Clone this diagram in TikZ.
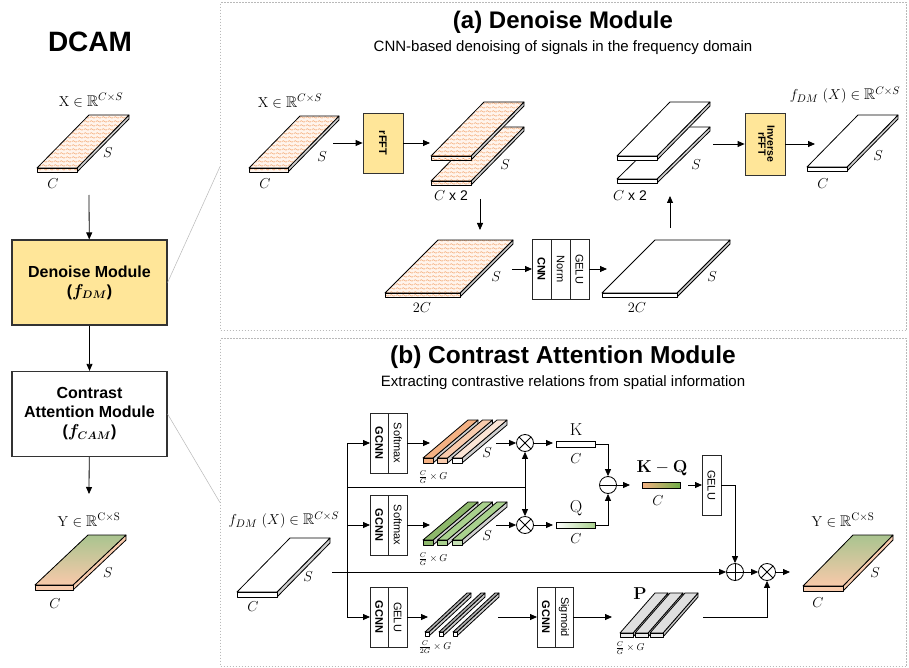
\documentclass[tikz,border=0pt]{standalone}
\usepackage{amssymb}
\usepackage{graphicx}
\usepackage[no-math]{fontspec}
\setmainfont{Liberation Sans}
\usepackage{tikz}
\definecolor{BoxYellow}{HTML}{FFE699}
\definecolor{WavyBg}{HTML}{FFF4EC}
\definecolor{WavyDot}{HTML}{F19A5E}
\definecolor{SlabSide}{HTML}{D0D0D0}
\definecolor{PeachA}{HTML}{F4B183}
\definecolor{PeachB}{HTML}{F8CBAD}
\definecolor{PeachC}{HTML}{FBE5D6}
\definecolor{GreenA}{HTML}{8DB86B}
\definecolor{GreenB}{HTML}{A9D18E}
\definecolor{GreenC}{HTML}{C5E0B4}
\definecolor{GreenD}{HTML}{70AD47}
\definecolor{YGreen}{HTML}{A9C48F}
\definecolor{YPeach}{HTML}{F8C9AA}
\usetikzlibrary{arrows.meta,positioning,calc,patterns}

% small wave texture for the noisy inputs
\pgfdeclarepatternformonly{wave}{\pgfqpoint{0pt}{0pt}}{\pgfqpoint{6pt}{3.5pt}}{\pgfqpoint{6pt}{3.5pt}}{
  \pgfsetlinewidth{0.5pt}
  \pgfpathmoveto{\pgfqpoint{0pt}{1.75pt}}
  \pgfpathcurveto{\pgfqpoint{1pt}{2.9pt}}{\pgfqpoint{2pt}{2.9pt}}{\pgfqpoint{3pt}{1.75pt}}
  \pgfpathcurveto{\pgfqpoint{4pt}{0.6pt}}{\pgfqpoint{5pt}{0.6pt}}{\pgfqpoint{6pt}{1.75pt}}
  \pgfusepath{stroke}
}

% front bottom-left x, y, width, thickness, depth dx, depth dy, top, side, front
\newcommand{\drawslab}[9]{%
  \filldraw[slabedge,#8] (#1+#3,#2-#4) -- (#1+#3,#2) -- (#1+#3+#5,#2-#6) -- (#1+#3+#5,#2-#4-#6) -- cycle;
  \filldraw[slabedge,#7] (#1,#2-#4) -- (#1+#3,#2-#4) -- (#1+#3+#5,#2-#4-#6) -- (#1+#5,#2-#4-#6) -- cycle;
  \filldraw[slabedge,#9] (#1,#2-#4) rectangle (#1+#3,#2);
}

\begin{document}
\begin{tikzpicture}[
x=1pt, y=-1pt,
line width=0.8pt,
>={Triangle[length=7pt,width=6pt]},
panel/.style={
	draw=gray!55,
	dash pattern=on 1.5pt off 1.5pt,
	line width=1.2pt,
	minimum width=686pt,
	minimum height=328pt,
	anchor=north west,
	inner sep=0pt
},
zoomline/.style={draw=gray!55, line width=0.5pt},
modbox/.style={
	draw=black!80,
	line width=1.2pt,
	minimum width=155pt,
	minimum height=85pt,
	align=center,
	font=\bfseries\boldmath\fontsize{16}{19}\selectfont
},
fftbox/.style={
	draw=black!80,
	fill=BoxYellow,
	minimum width=40pt,
	minimum height=60pt,
	inner sep=0pt,
	font=\bfseries\fontsize{11}{12}\selectfont
},
col/.style={
	draw=black!85,
	fill=white,
	line width=1pt,
	minimum width=19pt,
	minimum height=60pt,
	inner sep=0pt,
	outer sep=0pt,
	font=\fontsize{11}{12}\selectfont
},
opnode/.style={circle, draw, minimum size=17pt, inner sep=0pt, fill=white},
otimes/.style={opnode, path picture={
	\draw (path picture bounding box.north west) -- (path picture bounding box.south east)
	(path picture bounding box.north east) -- (path picture bounding box.south west);}},
oplus/.style={opnode, path picture={
	\draw (path picture bounding box.north) -- (path picture bounding box.south)
	(path picture bounding box.west) -- (path picture bounding box.east);}},
ominus/.style={opnode, path picture={
	\draw (path picture bounding box.west) -- (path picture bounding box.east);}},
vecbar/.style={draw, minimum width=39pt, minimum height=6pt, inner sep=0pt},
mlab/.style={font=\fontsize{15.5}{18}\selectfont},
dlab/.style={font=\fontsize{14}{16}\selectfont},
small/.style={font=\fontsize{10}{11}\selectfont},
slabedge/.style={draw=black, line width=0.8pt, line join=round},
wavy/.style={preaction={fill=WavyBg}, pattern=wave, pattern color=WavyDot},
]

\fill[white] (0,0) rectangle (909,668);
\useasboundingbox (0,0) rectangle (909,668);

\node[panel] (pa) at (220,2) {};
\node[panel] (pb) at (220,338) {};

% DCAM overview
\node[font=\bfseries\fontsize{28}{32}\selectfont] (dcam) at (90,42) {DCAM};
\node[mlab] (xlab) at (91,100) {$\mathrm{X}\in\mathbb{R}^{C\times S}$};
\drawslab{37}{172}{40}{4}{52}{53}{wavy}{fill=SlabSide}{wavy}
\node[dlab] (xs) at (108,153) {$S$};
\node[dlab] (xc) at (53,184) {$C$};
\coordinate (xout) at (89,195);
\node[modbox, fill=BoxYellow] (dm) at (89.5,282.5) {Denoise Module\\($f_{DM}$)};
\node[modbox, fill=white] (cam) at (89.5,414) {Contrast\\Attention Module\\($f_{CAM}$)};
\coordinate (yin) at (89,494);
\draw[->] (xout) to (dm);
\draw[->] (dm) to (cam);
\draw[->] (cam) to (yin);
\node[mlab] (ylab) at (89,520) {$\mathrm{Y}\in\mathbb{R}^{\mathrm{C\times S}}$};
\drawslab{35}{590}{38}{5}{53}{50}{top color=YGreen,bottom color=YPeach}{fill=PeachB}{fill=PeachB}
\node[dlab] (ys) at (108,573) {$S$};
\node[dlab] (yc) at (55,604) {$C$};

\draw[zoomline] (dm.east) -- (pa.west);
\draw[zoomline] (cam.east) -- (pb.west);

% (a) Denoise Module
\node[font=\bfseries\fontsize{24}{28}\selectfont] (ta) at (563,22) {(a) Denoise Module};
\node[font=\fontsize{15}{18}\selectfont] (sa) at (563,48) {CNN-based denoising of signals in the frequency domain};

\node[mlab] (xlab2) at (290,101) {$\mathrm{X}\in\mathbb{R}^{C\times S}$};
\drawslab{249}{172}{39}{4}{51}{52}{wavy}{fill=SlabSide}{wavy}
\node[dlab] at (322,157) {$S$};
\node[dlab] at (265,184) {$C$};
\coordinate (a0) at (333,143);
\node[fftbox] (rfft) at (383,143) {\rotatebox{-90}{rFFT}};
\coordinate (a1) at (430,143);
\draw[->] (a0) to (rfft);
\draw[->] (rfft) to (a1);

\drawslab{431}{185}{40}{4}{53}{54}{wavy}{fill=SlabSide}{wavy}
\drawslab{431}{160}{40}{4}{53}{54}{wavy}{fill=SlabSide}{wavy}
\node[dlab] at (505,165) {$S$};
\node[dlab] at (451,196) {$C$ x 2};
\coordinate (a2) at (480,199);
\coordinate (a3) at (480,230);
\draw[->] (a2) to (a3);

\drawslab{385}{297}{75}{4}{53}{53}{wavy}{fill=SlabSide}{wavy}
\node[dlab] at (496,277) {$S$};
\node[dlab] at (422,308) {$2C$};
\coordinate (a4) at (512,269);
\node[col, anchor=west] (cnn) at (532,269) {\rotatebox{-90}{\bfseries CNN}};
\node[col, right=0pt of cnn] (norm) {\rotatebox{-90}{Norm}};
\node[col, right=0pt of norm] (gelua) {\rotatebox{-90}{GELU}};
\coordinate (a5) at (607,269);
\draw[->] (a4) to (cnn);
\draw[->] (gelua) to (a5);

\drawslab{602}{297}{75}{4}{53}{53}{fill=white}{fill=SlabSide}{fill=white}
\node[dlab] at (712,277) {$S$};
\node[dlab] at (637,308) {$2C$};
\coordinate (a6) at (670,228);
\coordinate (a7) at (670,196);
\draw[->] (a6) to (a7);

\drawslab{617}{183}{40}{4}{53}{52}{fill=white}{fill=SlabSide}{fill=white}
\drawslab{617}{160}{40}{4}{53}{54}{fill=white}{fill=SlabSide}{fill=white}
\node[dlab] at (696,165) {$S$};
\node[dlab] at (630,196) {$C$ x 2};
\coordinate (a8) at (713,144);
\node[fftbox, minimum height=62pt, font=\bfseries\fontsize{10.5}{11}\selectfont] (irfft) at (765,144) {\rotatebox{-90}{\begin{tabular}{@{}c@{}}Inverse\\[-2pt]rFFT\end{tabular}}};
\coordinate (a9) at (815,144);
\draw[->] (a8) to (irfft);
\draw[->] (irfft) to (a9);

\drawslab{807}{171}{40}{4}{51}{52}{fill=white}{fill=SlabSide}{fill=white}
\node[dlab] at (878,156) {$S$};
\node[dlab] at (823,184) {$C$};
\node[mlab] (flab) at (845,95) {$f_{DM}\ (X)\in\mathbb{R}^{C\times S}$};

% (b) Contrast Attention Module
\node[font=\bfseries\fontsize{24.5}{28}\selectfont] (tb) at (563,357) {(b) Contrast Attention Module};
\node[font=\fontsize{15}{18}\selectfont] (sb) at (563,383) {Extracting contrastive relations from spatial information};

\node[mlab] (flab2) at (284,520) {$f_{DM}\ (X)\in\mathbb{R}^{C\times S}$};
\drawslab{237}{597}{40}{5}{53}{54}{fill=white}{fill=SlabSide}{fill=white}
\node[dlab] at (308,577) {$S$};
\node[dlab] at (253,607) {$C$};
\coordinate (fin) at (332,572);
\coordinate (vtop) at (347,443);
\coordinate (vbot) at (347,617);

\node[col, minimum width=18.5pt, anchor=west] (gc1) at (370,443) {\rotatebox{-90}{\bfseries GCNN}};
\node[col, minimum width=18.5pt, right=0pt of gc1] (sm1) {\rotatebox{-90}{Softmax}};
\node[col, minimum width=18.5pt, anchor=west] (gc2) at (370,525) {\rotatebox{-90}{\bfseries GCNN}};
\node[col, minimum width=18.5pt, right=0pt of gc2] (sm2) {\rotatebox{-90}{Softmax}};
\node[col, minimum width=18.5pt, anchor=west] (gc3) at (370,617) {\rotatebox{-90}{\bfseries GCNN}};
\node[col, minimum width=18.5pt, right=0pt of gc3] (ge3) {\rotatebox{-90}{GELU}};
\node[col, minimum width=18pt, anchor=west] (gc4) at (537,617) {\rotatebox{-90}{\bfseries GCNN}};
\node[col, minimum width=18pt, right=0pt of gc4] (sg4) {\rotatebox{-90}{Sigmoid}};

\draw (vtop) -- (vbot);
\draw[->] (vtop) to (gc1);
\draw[->] (vtop |- gc2) to (gc2);
\draw[->] (vbot) to (gc3);

% key branch
\coordinate (b1) at (430,443);
\draw[->] (sm1) to (b1);
\drawslab{423}{463}{10}{5}{45}{38}{fill=PeachA}{fill=SlabSide}{fill=PeachA}
\drawslab{437.5}{463}{10}{5}{45}{38}{fill=PeachB}{fill=SlabSide}{fill=PeachB}
\drawslab{452}{463}{10}{5}{45}{38}{fill=PeachC}{fill=SlabSide}{fill=white}
\node[dlab] at (487,453) {$S$};
\node[small] at (433,477) {$\frac{C}{G}\times G$};
\coordinate (b2) at (496,443);
\node[otimes] (ot1) at (525,443) {};
\draw[->] (b2) to (ot1);
\coordinate (kin) at (553,443);
\draw[->] (ot1) to (kin);
\node[vecbar, left color=white, middle color=PeachA, right color=white] (kbar) at (575.5,444) {};
\node[font=\fontsize{17}{19}\selectfont] (klab) at (576,430) {$\mathrm{K}$};
\node[dlab] at (576,459) {$C$};

% query branch
\coordinate (b3) at (430,525);
\draw[->] (sm2) to (b3);
\drawslab{423}{545}{10}{5}{45}{38}{fill=GreenA}{fill=SlabSide}{fill=GreenA}
\drawslab{437.5}{545}{10}{5}{45}{38}{fill=GreenB}{fill=SlabSide}{fill=GreenB}
\drawslab{452}{545}{10}{5}{45}{38}{fill=GreenB}{fill=SlabSide}{fill=GreenC}
\node[dlab] at (487,536) {$S$};
\node[small] at (433,559) {$\frac{C}{G}\times G$};
\coordinate (b4) at (496,525);
\node[otimes] (ot2) at (525,525) {};
\draw[->] (b4) to (ot2);
\coordinate (qin) at (553,525);
\draw[->] (ot2) to (qin);
\node[vecbar, left color=white, middle color=white, right color=GreenB] (qbar) at (575.5,525) {};
\node[font=\fontsize{17}{19}\selectfont] (qlab) at (576,508) {$\mathrm{Q}$};
\node[dlab] at (576,539) {$C$};

\coordinate (mid) at (525,487);
\draw (vtop |- mid) -- (mid);
\draw[->] (mid) to (ot1);
\draw[->] (mid) to (ot2);

\node[ominus] (om) at (608,485) {};
\draw[->] (kbar) -| (om);
\draw[->] (qbar) -| (om);
\coordinate (kq) at (630,485);
\draw[->] (om) to (kq);
\node[vecbar, minimum width=38pt, left color=PeachA, middle color=PeachC, right color=GreenD] (kqbar) at (661,485) {};
\node[font=\fontsize{17}{19}\selectfont] (kqlab) at (662,468) {$\mathbf{K-Q}$};
\node[dlab] at (658,501) {$C$};
\coordinate (kq2) at (688,485);
\node[col, minimum width=19pt, anchor=west] (gelub) at (702,485) {\rotatebox{-90}{GELU}};
\draw[->] (kq2) to (gelub);

\node[oplus] (op) at (735,572) {};
\node[otimes] (ot3) at (767,572) {};
\draw[->] (gelub) -| (op);
\draw[->] (fin) to (op);
\draw[->] (op) to (ot3);
\coordinate (yin2) at (790,572);
\draw[->] (ot3) to (yin2);

% gate branch
\coordinate (b5) at (428,617);
\draw[->] (ge3) to (b5);
\drawslab{425}{636}{4}{4}{42}{39}{fill=gray!65}{fill=gray!40}{fill=white}
\drawslab{439}{636}{4}{4}{42}{39}{fill=gray!65}{fill=gray!40}{fill=white}
\drawslab{453}{636}{4}{4}{42}{39}{fill=gray!65}{fill=gray!40}{fill=white}
\node[small] at (435,647) {$\frac{C}{2G}\times G$};
\coordinate (b6) at (498,617);
\draw[->] (b6) to (gc4);
\coordinate (b7) at (612,617);
\draw[->] (sg4) to (b7);
\drawslab{620}{637}{13}{4}{35}{40}{fill=gray!25}{fill=gray!45}{fill=gray!15}
\drawslab{635}{637}{13}{4}{35}{40}{fill=gray!25}{fill=gray!45}{fill=gray!15}
\drawslab{650}{637}{13}{4}{35}{40}{fill=gray!25}{fill=gray!45}{fill=gray!15}
\node[font=\fontsize{17}{19}\selectfont] (plab) at (640,594) {$\mathbf{P}$};
\node[small] at (630,648) {$\frac{C}{G}\times G$};
\coordinate (pend) at (703,617);
\draw[->] (pend) -| (ot3);

\drawslab{803}{591}{40}{5}{50}{51}{top color=YGreen,bottom color=YPeach}{fill=PeachB}{fill=PeachB}
\node[dlab] at (875,573) {$S$};
\node[dlab] at (818,603) {$C$};
\node[mlab] (ylab2) at (843,520) {$\mathrm{Y}\in\mathbb{R}^{\mathrm{C\times S}}$};

\end{tikzpicture}
\end{document}
